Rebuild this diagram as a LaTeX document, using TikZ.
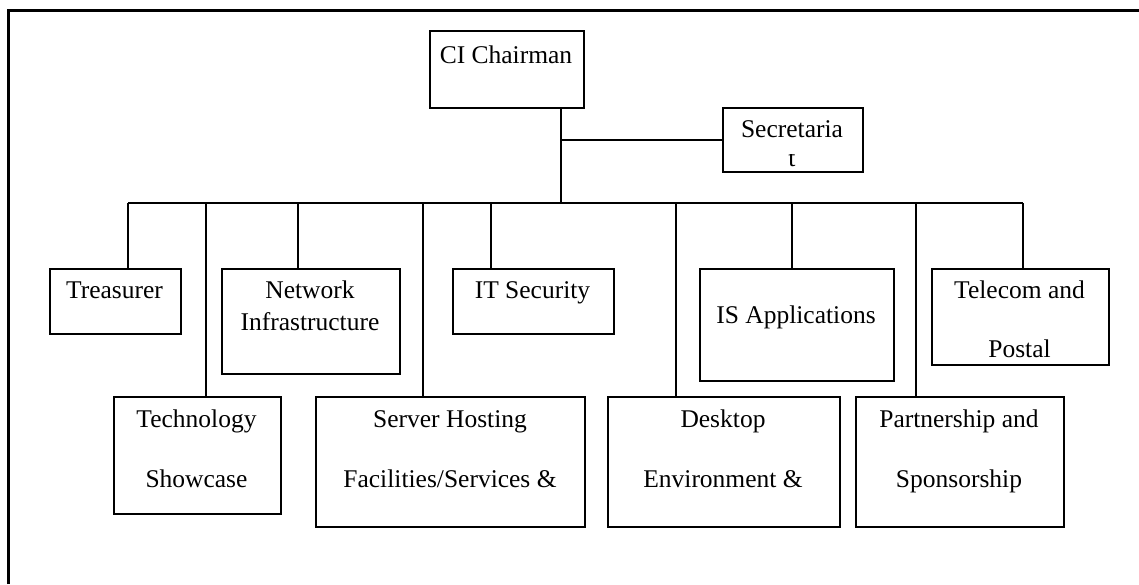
\documentclass[tikz,border=0pt]{standalone}
\usepackage{fontspec}
\setmainfont{Liberation Serif}
\begin{document}
\begin{tikzpicture}[x=1pt,y=-1pt,
  box/.style={draw, line width=1.8pt, rectangle, inner sep=0pt, anchor=north west},
  lbl/.style={anchor=base, inner sep=0pt, font=\fontsize{25.5}{30}\selectfont},
  conn/.style={line width=1.8pt},
  frameline/.style={line width=3pt}]
\useasboundingbox (0,0) rectangle (1139,584);
% frame
\coordinate (fb) at (8,584);
\coordinate (fc) at (8,10.5);
\coordinate (fr) at (1139,10.5);
\draw[frameline] (fb) -- (fc) -- (fr);
% boxes
\node[box, minimum width=154pt, minimum height=77pt] (chair) at (429,30) {};
\node[box, minimum width=140pt, minimum height=64pt] (sec) at (722,107) {};
\node[box, minimum width=131pt, minimum height=65pt] (treas) at (49,268) {};
\node[box, minimum width=178pt, minimum height=105pt] (net) at (221,268) {};
\node[box, minimum width=161pt, minimum height=65pt] (itsec) at (452,268) {};
\node[box, minimum width=194pt, minimum height=112pt] (isapp) at (699,268) {};
\node[box, minimum width=177pt, minimum height=96pt] (tel) at (931,268) {};
\node[box, minimum width=167pt, minimum height=117pt] (tech) at (113,396) {};
\node[box, minimum width=269pt, minimum height=130pt] (serv) at (315,396) {};
\node[box, minimum width=232pt, minimum height=130pt] (desk) at (607,396) {};
\node[box, minimum width=208pt, minimum height=130pt] (part) at (855,396) {};
% labels
\node[lbl] (chairT) at (506,63) {CI Chairman};
\node[lbl] (secT) at (792,137) {Secretaria};
\begin{scope}
\clip (722,154) rectangle (862,171);
\node[lbl] (secT2) at (792,166) {t};
\end{scope}
\node[lbl] (treasT) at (114.5,298) {Treasurer};
\node[lbl] (netT1) at (310,298) {Network};
\node[lbl] (netT2) at (310,330) {Infrastructure};
\node[lbl] (itsecT) at (532.5,298) {IT Security};
\node[lbl] (isappT) at (796,323) {IS Applications};
\node[lbl] (telT1) at (1019.5,298) {Telecom and};
\node[lbl] (telT2) at (1019.5,357) {Postal};
\node[lbl] (techT1) at (196.5,427) {Technology};
\node[lbl] (techT2) at (196.5,487) {Showcase};
\node[lbl] (servT1) at (450,427) {Server Hosting};
\node[lbl] (servT2) at (450,487) {Facilities/Services \&};
\node[lbl] (deskT1) at (723,427) {Desktop};
\node[lbl] (deskT2) at (723,487) {Environment \&};
\node[lbl] (partT1) at (959,427) {Partnership and};
\node[lbl] (partT2) at (959,487) {Sponsorship};
% connectors
\coordinate (trunk) at (561,203);
\coordinate (busL) at (128,203);
\coordinate (busR) at (1023,203);
\draw[conn] (chair.south -| trunk) -- (trunk);
\draw[conn] (sec.west -| trunk) -- (sec.west);
\draw[conn] (busL) -- (busR);
\coordinate (d1) at (128,203);
\coordinate (d2) at (206,203);
\coordinate (d3) at (298,203);
\coordinate (d4) at (423,203);
\coordinate (d5) at (491,203);
\coordinate (d6) at (676,203);
\coordinate (d7) at (792,203);
\coordinate (d8) at (916,203);
\coordinate (d9) at (1023,203);
\draw[conn] (d1) -- (d1 |- treas.north);
\draw[conn] (d2) -- (d2 |- tech.north);
\draw[conn] (d3) -- (d3 |- net.north);
\draw[conn] (d4) -- (d4 |- serv.north);
\draw[conn] (d5) -- (d5 |- itsec.north);
\draw[conn] (d6) -- (d6 |- desk.north);
\draw[conn] (d7) -- (d7 |- isapp.north);
\draw[conn] (d8) -- (d8 |- part.north);
\draw[conn] (d9) -- (d9 |- tel.north);
\end{tikzpicture}
\end{document}
